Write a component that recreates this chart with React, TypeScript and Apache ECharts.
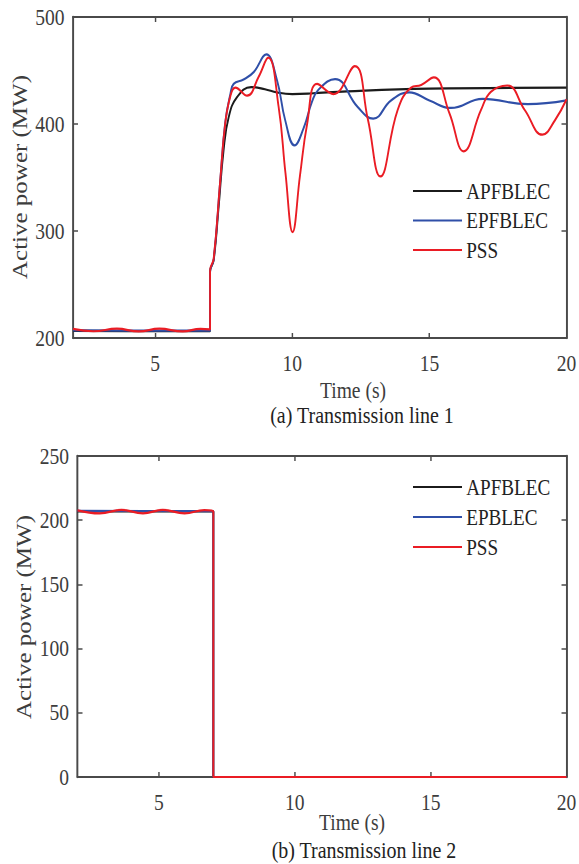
import React, { useEffect, useRef } from "react";
import * as echarts from "echarts";

// Time ticks shared by both panels (s)
const timeLabels = [5, 10, 15, 20];
const timeTicks = [5, 10, 15];

// Panel (a): transmission line 1, [time (s), active power (MW)]
const line1Apfblec: [number, number][] = [
  [2.0, 206.6], [4.5, 206.4], [7.0, 206.5], [7.0, 206.5], [7.0, 262], [7.0, 262],
  [7.13, 272.5], [7.31, 322], [7.49, 375], [7.68, 406.5], [7.98, 425], [8.5, 434.5],
  [9.0, 432.5], [9.44, 429.5], [10.0, 428], [10.66, 428.5], [12.0, 430.5],
  [15.0, 433], [20.0, 434],
];

const line1Epfblec: [number, number][] = [
  [2.0, 207.2], [4.5, 206.8], [7.0, 206.8], [7.0, 206.8], [7.0, 262], [7.0, 262],
  [7.13, 273], [7.37, 347], [7.55, 401], [7.74, 428], [7.86, 437.5], [8.22, 441.5],
  [8.59, 448.5], [9.05, 465], [9.44, 441], [9.74, 403.5], [10.08, 380], [10.41, 396],
  [10.72, 421], [10.95, 432], [11.56, 442], [12.38, 416], [12.95, 405], [13.6, 422],
  [14.26, 429.5], [15.0, 422], [15.78, 415], [16.94, 423.5], [18.58, 418.5], [20.0, 422],
];

const line1Pss: [number, number][] = [
  [2.0, 208.5], [2.75, 206.3], [3.6, 208.7], [4.4, 206.1], [5.15, 208.7], [6.0, 206.1],
  [6.65, 208.5], [7.0, 208.0], [7.0, 208.0], [7.0, 263], [7.0, 263],
  [7.13, 274], [7.37, 347], [7.55, 400], [7.74, 426], [7.92, 434], [8.35, 426.5],
  [8.77, 444], [9.12, 462], [9.5, 416], [9.75, 354], [10.01, 299], [10.28, 352],
  [10.54, 400], [10.9, 437.5], [11.5, 428], [12.28, 454], [12.75, 405], [13.21, 351],
  [13.84, 413], [14.33, 434], [14.7, 436.5], [15.16, 443.5], [15.73, 410], [16.25, 374.5],
  [16.88, 413], [17.24, 430], [17.84, 436], [18.48, 413], [19.12, 390], [19.58, 403.5],
  [20.0, 423],
];

// Panel (b): transmission line 2, [time (s), active power (MW)]
const line2Apfblec: [number, number][] = [
  [2.0, 206.8], [7.0, 206.8], [7.0, 206.8], [7.0, 0], [7.0, 0], [20.0, 0],
];

const line2Epblec: [number, number][] = [
  [2.0, 207.2], [7.0, 207.0], [7.0, 207.0], [7.0, 0], [7.0, 0], [20.0, 0],
];

const line2Pss: [number, number][] = [
  [2.0, 207.7], [2.82, 205.3], [3.62, 208], [4.41, 205.3], [5.14, 208], [5.94, 205.3],
  [6.67, 207.8], [7.0, 207], [7.0, 207], [7.0, 0], [7.0, 0], [20.0, 0],
];

const FONT = "'Liberation Serif', 'Times New Roman', serif";
const AXIS_COLOR = "#4a4a4a";
const LABEL_COLOR = "#3d3d3d";
const TEXT_COLOR = "#222222";
const BLACK = "#1b1b1b";
const BLUE = "#2f4fa8";
const RED = "#ea1c24";

// The figure uses narrow type: the canvas is laid out wider and squeezed
// horizontally, so every horizontal position below is given in page pixels
// and converted through sx().
const SQUEEZE = 0.85;
const PAGE_W = 579;
const PAGE_H = 864;
const sx = (v: number) => v / SQUEEZE;

function xAxis(gridIndex: number, position: "bottom" | "top", labels: boolean) {
  return {
    type: "value",
    gridIndex,
    position,
    min: 2,
    max: 20,
    axisLine: { show: true, onZero: false, lineStyle: { color: AXIS_COLOR, width: 2 } },
    axisTick: {
      show: true,
      inside: true,
      length: 5,
      customValues: timeTicks,
      lineStyle: { color: AXIS_COLOR, width: 1.7 },
    },
    axisLabel: {
      show: labels,
      customValues: timeLabels,
      fontSize: 23,
      fontFamily: FONT,
      color: LABEL_COLOR,
      margin: 14,
    },
    splitLine: { show: false },
  };
}

function yAxis(
  gridIndex: number,
  position: "left" | "right",
  labels: boolean,
  min: number,
  max: number,
  interval: number
) {
  return {
    type: "value",
    gridIndex,
    position,
    min,
    max,
    interval,
    axisLine: { show: true, onZero: false, lineStyle: { color: AXIS_COLOR, width: 2.3 } },
    axisTick: { show: true, inside: true, length: sx(5), lineStyle: { color: AXIS_COLOR, width: 1.5 } },
    axisLabel: {
      show: labels,
      fontSize: 23,
      fontFamily: FONT,
      color: LABEL_COLOR,
      margin: sx(8.5),
    },
    splitLine: { show: false },
  };
}

function lineSeries(
  name: string,
  data: [number, number][],
  color: string,
  axisIndex: number,
  z: number
) {
  return {
    type: "line",
    name,
    data,
    xAxisIndex: axisIndex,
    yAxisIndex: axisIndex,
    color,
    symbol: "none",
    showSymbol: false,
    smooth: 0.45,
    lineStyle: { color, width: 2.2 },
    z,
  };
}

function label(text: string, x: number, y: number, size: number, fill: string, rotated = false) {
  return {
    type: "text",
    x: sx(x),
    y,
    rotation: rotated ? Math.PI / 2 : 0,
    style: {
      text,
      font: `${size}px ${FONT}`,
      fill,
      align: "center",
      verticalAlign: "middle",
    },
  };
}

function legend(names: string[], top: number, gap: number) {
  return {
    data: names,
    orient: "vertical",
    left: sx(413),
    top,
    padding: 0,
    itemWidth: sx(49),
    itemHeight: 2.2,
    itemGap: gap,
    icon: "rect",
    selectedMode: false,
    textStyle: { fontSize: 22.5, fontFamily: FONT, color: TEXT_COLOR, lineHeight: 23 },
  };
}

export default function App() {
  const ref = useRef<HTMLDivElement>(null);

  useEffect(() => {
    if (!ref.current) return;
    const chart = echarts.init(ref.current, null, { renderer: "svg" });
    chart.setOption({
      animation: false,
      backgroundColor: "#ffffff",
      grid: [
        { left: sx(73), top: 17, width: sx(493.5), height: 321 },
        { left: sx(77.5), top: 456, width: sx(490), height: 321 },
      ],
      xAxis: [
        xAxis(0, "bottom", true),
        xAxis(0, "top", false),
        xAxis(1, "bottom", true),
        xAxis(1, "top", false),
      ],
      yAxis: [
        yAxis(0, "left", true, 200, 500, 100),
        yAxis(0, "right", false, 200, 500, 100),
        yAxis(1, "left", true, 0, 250, 50),
        yAxis(1, "right", false, 0, 250, 50),
      ],
      legend: [
        legend(["APFBLEC", "EPFBLEC", "PSS"], 179.5, 6.5),
        legend(["APFBLEC", "EPBLEC", "PSS"], 475.5, 7),
      ],
      series: [
        lineSeries("APFBLEC", line1Apfblec, BLACK, 0, 2),
        lineSeries("EPFBLEC", line1Epfblec, BLUE, 0, 3),
        lineSeries("PSS", line1Pss, RED, 0, 4),
        lineSeries("APFBLEC", line2Apfblec, BLACK, 2, 2),
        lineSeries("EPBLEC", line2Epblec, BLUE, 2, 3),
        lineSeries("PSS", line2Pss, RED, 2, 4),
      ],
      graphic: [
        label("Active power (MW)", 20, 177, 25, LABEL_COLOR, true),
        label("Time (s)", 353, 390, 23, LABEL_COLOR),
        label("(a) Transmission line 1", 362, 415, 23.5, TEXT_COLOR),
        label("Active power (MW)", 24, 617, 25, LABEL_COLOR, true),
        label("Time (s)", 352, 822, 23, LABEL_COLOR),
        label("(b) Transmission line 2", 364, 850, 23.5, TEXT_COLOR),
      ],
    });
    return () => chart.dispose();
  }, []);

  return (
    <div style={{ position: "fixed", left: 0, top: 0, width: PAGE_W, height: PAGE_H, overflow: "hidden", background: "#fff" }}>
      <div
        ref={ref}
        style={{
          width: sx(PAGE_W),
          height: PAGE_H,
          transform: `scaleX(${SQUEEZE})`,
          transformOrigin: "left top",
        }}
      />
    </div>
  );
}
